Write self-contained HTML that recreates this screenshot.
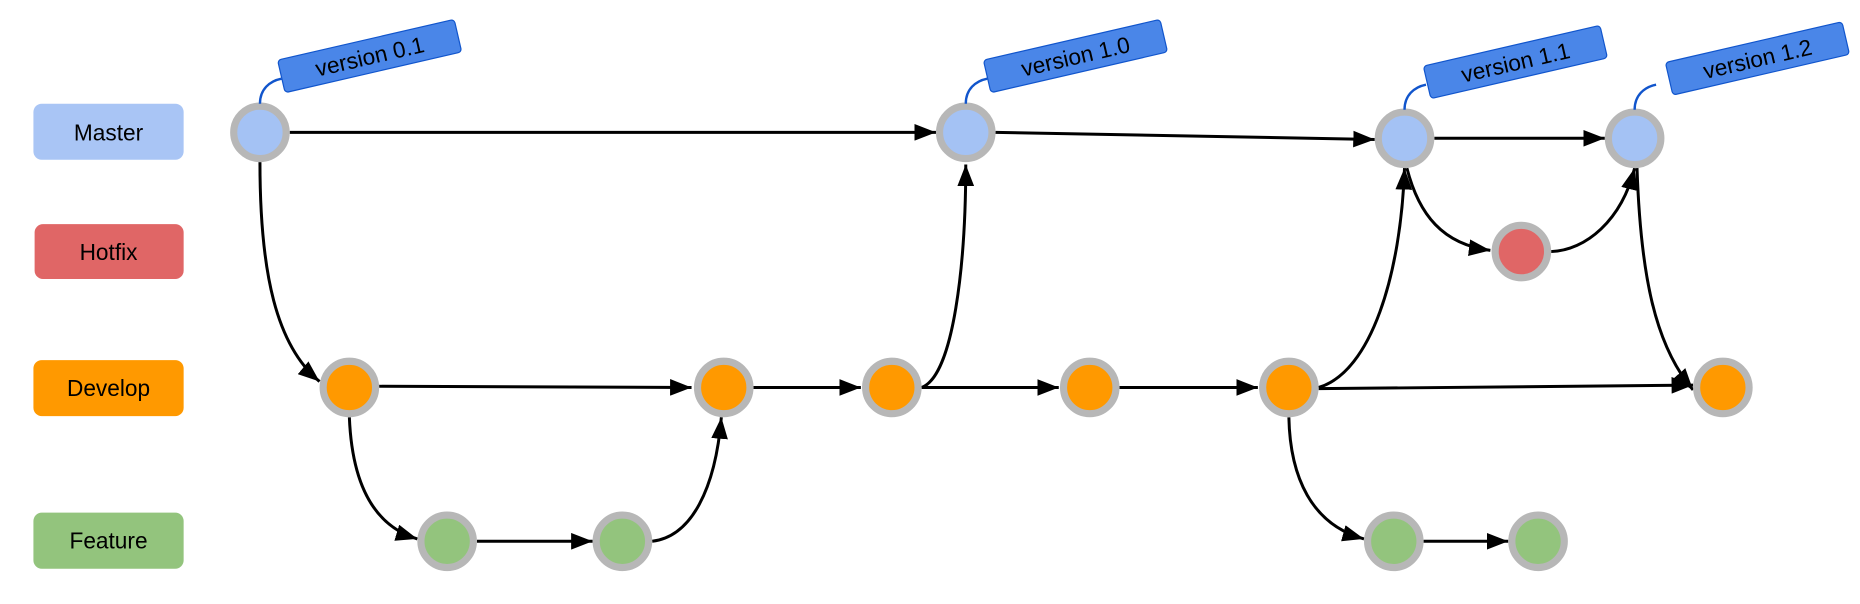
<!DOCTYPE html>
<html><head><meta charset="utf-8"><style>html,body{margin:0;padding:0;background:#fff}svg{display:block}</style></head>
<body>
<svg width="1860" height="604" viewBox="0 0 1560 506.6" xmlns="http://www.w3.org/2000/svg" font-family="Liberation Sans, Arial, sans-serif">
<defs>
<marker id="a" markerUnits="userSpaceOnUse" markerWidth="20" markerHeight="14" refX="18" refY="7" orient="auto">
<path d="M0,0 L18,7 L0,14 Z" fill="#000"/>
</marker>
</defs>
<rect x="28" y="87" width="126" height="47" rx="7" fill="#a4c2f4" opacity="0.95"/>
<text x="91" y="118" font-size="19" text-anchor="middle">Master</text>
<rect x="29" y="188" width="125" height="46" rx="7" fill="#e06666"/>
<text x="91" y="218" font-size="19" text-anchor="middle">Hotfix</text>
<rect x="28" y="302" width="126" height="47" rx="7" fill="#ff9900"/>
<text x="91" y="332" font-size="19" text-anchor="middle">Develop</text>
<rect x="28" y="430" width="126" height="47" rx="7" fill="#93c47d"/>
<text x="91" y="460" font-size="19" text-anchor="middle">Feature</text>

<g fill="none" stroke="#000" stroke-width="2.5" marker-end="url(#a)">
<path d="M243,111 L785,111"/>
<path d="M835,111 L1153,117"/>
<path d="M1203,116 L1346,116"/>
<path d="M318,324 L580,325"/>
<path d="M632,325 L722,325"/>
<path d="M773,325 L888,325"/>
<path d="M939,325 L1055,325"/>
<path d="M1106,326 L1420,323"/>
<path d="M400,454 L497,454"/>
<path d="M1194,454 L1265,454"/>
<path d="M218,136 C218,230 232,290 268,320"/>
<path d="M773,325 C800,315 810,220 810,138"/>
<path d="M1106,325 C1150,312 1175,230 1178,141"/>
<path d="M1180,141 C1190,180 1210,205 1250,210"/>
<path d="M1301,211 C1330,210 1360,185 1371,141"/>
<path d="M1373,141 C1376,230 1388,290 1420,327"/>
<path d="M293,350 C295,400 310,440 350,452"/>
<path d="M547,454 C580,450 600,410 605,350"/>
<path d="M1081,350 C1082,400 1100,440 1144,452"/>
</g>

<g stroke="#b7b7b7" stroke-width="6">
<circle cx="218" cy="111" r="22" fill="#a4c2f4"/>
<circle cx="810" cy="111" r="22" fill="#a4c2f4"/>
<circle cx="1178" cy="116" r="22" fill="#a4c2f4"/>
<circle cx="1371" cy="116" r="22" fill="#a4c2f4"/>
<circle cx="1276" cy="211" r="22" fill="#e06666"/>
<circle cx="293" cy="325" r="22" fill="#ff9900"/>
<circle cx="607" cy="325" r="22" fill="#ff9900"/>
<circle cx="748" cy="325" r="22" fill="#ff9900"/>
<circle cx="914" cy="325" r="22" fill="#ff9900"/>
<circle cx="1081" cy="325" r="22" fill="#ff9900"/>
<circle cx="1445" cy="325" r="22" fill="#ff9900"/>
<circle cx="375" cy="454" r="22" fill="#93c47d"/>
<circle cx="522" cy="454" r="22" fill="#93c47d"/>
<circle cx="1169" cy="454" r="22" fill="#93c47d"/>
<circle cx="1290" cy="454" r="22" fill="#93c47d"/>
</g>

<g fill="none" stroke="#1155cc" stroke-width="2">
<path d="M218,87 C218,75 226,68 236,66"/>
<path d="M810,87 C810,75 818,68 828,66"/>
<path d="M1178,92 C1178,80 1186,73 1196,71"/>
<path d="M1371,92 C1371,80 1379,73 1389,71"/>
</g>
<g font-size="19" fill="#000">
<g transform="translate(310,47) rotate(-13)"><rect x="-76" y="-14" width="152" height="28" rx="3" fill="#4a86e8" stroke="#1155cc"/><text x="0" y="7" text-anchor="middle">version 0.1</text></g>
<g transform="translate(902,47) rotate(-13)"><rect x="-76" y="-14" width="152" height="28" rx="3" fill="#4a86e8" stroke="#1155cc"/><text x="0" y="7" text-anchor="middle">version 1.0</text></g>
<g transform="translate(1271,52) rotate(-13)"><rect x="-76" y="-14" width="152" height="28" rx="3" fill="#4a86e8" stroke="#1155cc"/><text x="0" y="7" text-anchor="middle">version 1.1</text></g>
<g transform="translate(1474,49) rotate(-13)"><rect x="-76" y="-14" width="152" height="28" rx="3" fill="#4a86e8" stroke="#1155cc"/><text x="0" y="7" text-anchor="middle">version 1.2</text></g>
</g>
</svg>
</body></html>
